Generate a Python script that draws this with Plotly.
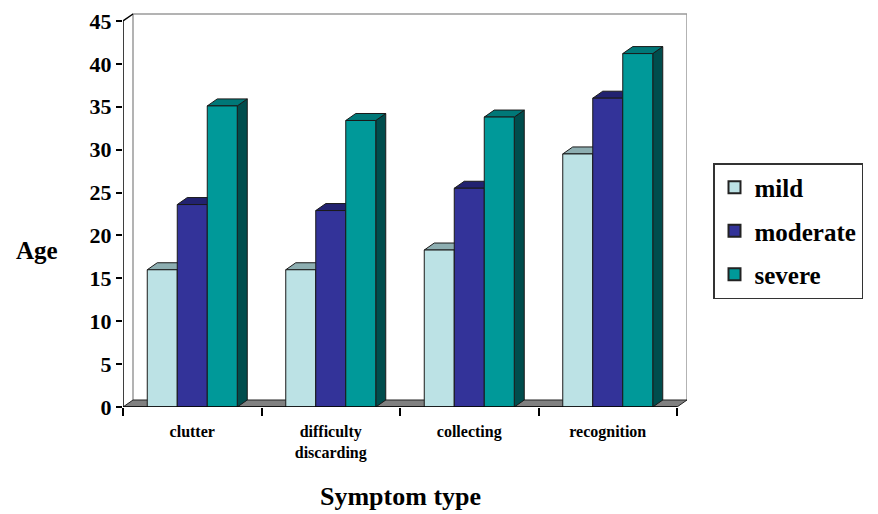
import plotly.graph_objects as go

categories = ["clutter", "difficulty<br>discarding", "collecting", "recognition"]
series_names = ["mild", "moderate", "severe"]
mild = [16.0, 16.0, 18.3, 29.5]
moderate = [23.6, 22.9, 25.5, 36.0]
severe = [35.1, 33.4, 33.8, 41.2]
y_ticks = [0, 5, 10, 15, 20, 25, 30, 35, 40, 45]

values = [mild, moderate, severe]
front_colors = ["#BCE2E5", "#333399", "#009999"]
top_colors = ["#8DAEB1", "#222270", "#007878"]
side_colors = ["#6F9295", "#1A1A50", "#004D4D"]

# geometry (pixels -> data units)
W, H = 878, 514
ml, mr, mt, mb = 123, 191, 13, 107
cat_px = 138.5
px_per_unit = 8.578
dx = 10 / cat_px
dy = 7 / px_per_unit
x_lo, x_hi = -0.5, len(categories) - 0.5
x_range = [x_lo, x_hi + (W - ml - mr - (x_hi - x_lo) * cat_px) / cat_px]
y_top = (H - mt - mb) / px_per_unit
bar_w = 30 / cat_px

font_family = "Liberation Serif"
fig = go.Figure()

def poly(xs, ys, fill, line="#1a1a1a", width=1):
    fig.add_trace(go.Scatter(x=xs + [xs[0]], y=ys + [ys[0]], mode="lines", fill="toself",
                             fillcolor=fill, line=dict(color=line, width=width),
                             hoverinfo="skip", showlegend=False, cliponaxis=False))

def line(xs, ys, color, width=1):
    fig.add_trace(go.Scatter(x=xs, y=ys, mode="lines", line=dict(color=color, width=width),
                             hoverinfo="skip", showlegend=False, cliponaxis=False))

# back wall
wall_top = y_ticks[-1] + dy
line([x_lo + dx, x_lo + dx, x_hi + dx, x_hi + dx], [dy, wall_top, wall_top, dy], "#9a9a9a", 1.5)
# floor
poly([x_lo, x_hi, x_hi + dx, x_lo + dx], [0, 0, dy, dy], "#808080", "#222222", 1)
# y axis line with top diagonal
line([x_lo, x_lo, x_lo + dx], [0, y_ticks[-1], wall_top], "#000000", 1.5)

# bars
n = len(series_names)
for c in range(len(categories)):
    for s in range(n):
        v = values[s][c]
        x0 = c + (s - (n - 1) / 2) * bar_w - bar_w / 2
        x1 = x0 + bar_w
        poly([x1, x1, x1 + dx, x1 + dx], [0, v, v + dy, dy], side_colors[s])
        poly([x0, x0 + dx, x1 + dx, x1], [v, v + dy, v + dy, v], top_colors[s])
        poly([x0, x1, x1, x0], [0, 0, v, v], front_colors[s])

# front x axis line
line([x_lo, x_hi], [0, 0], "#000000", 1.5)

# legend entries
for s, name in enumerate(series_names):
    fig.add_trace(go.Bar(x=[0], y=[None], name=name, legendgroup=name,
                         marker=dict(color=front_colors[s], line=dict(color="#222222", width=1))))

fig.update_layout(
    width=W, height=H, autosize=False,
    margin=dict(l=ml, r=mr, t=mt, b=mb, pad=0, autoexpand=False),
    plot_bgcolor="white", paper_bgcolor="white",
    font=dict(family=font_family, color="black"),
    xaxis=dict(range=x_range, showgrid=False, zeroline=False, showline=False, automargin=False,
               tickmode="array", tickvals=list(range(len(categories))), ticktext=categories,
               ticks="outside", ticklen=10, tickcolor="rgba(0,0,0,0)",
               tickfont=dict(family=font_family, size=16, color="black", weight="bold"),
               minor=dict(tickmode="array", tickvals=[x_lo + i for i in range(len(categories) + 1)],
                          ticks="outside", ticklen=8, tickcolor="black", tickwidth=1.5, showgrid=False)),
    yaxis=dict(range=[0, y_top], showgrid=False, zeroline=False, showline=False, automargin=False,
               tickmode="array", tickvals=y_ticks, ticks="outside", ticklen=6,
               tickcolor="black", tickwidth=1.5,
               tickfont=dict(family=font_family, size=22, color="black", weight="bold")),
    showlegend=True,
    legend=dict(x=(713 - ml) / (W - ml - mr), y=(H - mb - 163) / (H - mt - mb),
                xanchor="left", yanchor="top", bgcolor="white",
                bordercolor="#333333", borderwidth=1.5, tracegroupgap=8,
                entrywidth=150, entrywidthmode="pixels",
                font=dict(family=font_family, size=25, color="black", weight="bold"),
                itemsizing="constant"),
    annotations=[
        dict(text="Age", xref="paper", yref="paper",
             x=(37 - ml) / (W - ml - mr), y=(H - mb - 250) / (H - mt - mb),
             showarrow=False, xanchor="center", yanchor="middle",
             font=dict(family=font_family, size=25, color="black", weight="bold")),
        dict(text="Symptom type", xref="paper", yref="paper",
             x=(400 - ml) / (W - ml - mr), y=(H - mb - 497) / (H - mt - mb),
             showarrow=False, xanchor="center", yanchor="middle",
             font=dict(family=font_family, size=26, color="black", weight="bold")),
    ],
)

fig.write_html("out.html", config={"displayModeBar": False},
               post_script="document.body.style.margin='0';document.body.style.overflow='hidden';")
